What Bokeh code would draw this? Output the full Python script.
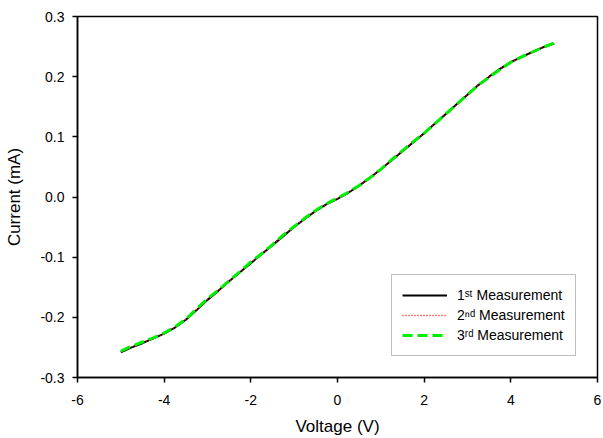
from bokeh.plotting import figure
from bokeh.models import FixedTicker, PrintfTickFormatter, Range1d
from bokeh.embed import file_html
from bokeh.resources import INLINE

# Data
voltage = [-5.0, -4.75, -4.5, -4.25, -4.0, -3.75, -3.5, -3.25, -3.0, -2.75,
           -2.5, -2.25, -2.0, -1.75, -1.5, -1.25, -1.0, -0.75, -0.5, -0.25,
           0.0, 0.25, 0.5, 0.75, 1.0, 1.25, 1.5, 1.75, 2.0, 2.25,
           2.5, 2.75, 3.0, 3.25, 3.5, 3.75, 4.0, 4.25, 4.5, 4.75, 5.0]
current_1 = [-0.258, -0.250, -0.243, -0.235, -0.227, -0.217, -0.204, -0.188, -0.171, -0.156,
             -0.140, -0.125, -0.110, -0.095, -0.080, -0.065, -0.050, -0.036, -0.023, -0.012,
             -0.003, 0.007, 0.019, 0.032, 0.046, 0.061, 0.076, 0.091, 0.106, 0.122,
             0.138, 0.154, 0.170, 0.186, 0.200, 0.213, 0.224, 0.233, 0.241, 0.249, 0.255]
current_2 = [-0.257, -0.249, -0.242, -0.235, -0.227, -0.217, -0.204, -0.187, -0.170, -0.156,
             -0.140, -0.125, -0.109, -0.095, -0.080, -0.064, -0.050, -0.036, -0.023, -0.012,
             -0.003, 0.007, 0.019, 0.032, 0.046, 0.062, 0.076, 0.091, 0.106, 0.122,
             0.138, 0.154, 0.170, 0.186, 0.200, 0.213, 0.224, 0.233, 0.241, 0.249, 0.255]
current_3 = [-0.256, -0.248, -0.241, -0.234, -0.226, -0.216, -0.203, -0.186, -0.169, -0.155,
             -0.139, -0.124, -0.108, -0.094, -0.079, -0.063, -0.049, -0.035, -0.022, -0.011,
             -0.002, 0.008, 0.019, 0.032, 0.046, 0.062, 0.077, 0.092, 0.106, 0.122,
             0.138, 0.154, 0.170, 0.186, 0.199, 0.212, 0.224, 0.233, 0.241, 0.249, 0.256]
labels = ["1\u02e2\u1d57 Measurement", "2\u207f\u1d48 Measurement", "3\u02b3\u1d48 Measurement"]
x_ticks = [-6, -4, -2, 0, 2, 4, 6]
y_ticks = [-0.3, -0.2, -0.1, 0.0, 0.1, 0.2, 0.3]

FONT = "Liberation Sans"

p = figure(width=603, height=438, output_backend="svg", toolbar_location=None,
           x_range=Range1d(-6, 6), y_range=Range1d(-0.3, 0.3),
           min_border_left=77, min_border_right=6, min_border_top=16, min_border_bottom=59)
p.background_fill_color = "white"
p.border_fill_color = "white"
p.grid.visible = False
p.outline_line_color = "black"
p.outline_line_width = 1.5

p.line(voltage, current_1, line_color="black", line_width=2, legend_label=labels[0])
p.line(voltage, current_2, line_color="red", line_width=1.5, line_dash="1 2", legend_label=labels[1])
p.line(voltage, current_3, line_color="#00ee00", line_width=3, line_dash="10 5", legend_label=labels[2])

for ax in (p.xaxis[0], p.yaxis[0]):
    ax.axis_line_color = "black"
    ax.axis_line_width = 1.5
    ax.major_tick_line_color = "black"
    ax.major_tick_line_width = 1.5
    ax.major_tick_out = 5
    ax.major_tick_in = 0
    ax.minor_tick_line_color = None
    ax.major_label_text_font = FONT
    ax.major_label_text_font_size = "14px"
    ax.major_label_text_color = "black"
    ax.axis_label_text_font = FONT
    ax.axis_label_text_font_size = "17px"
    ax.axis_label_text_font_style = "normal"
    ax.axis_label_text_color = "black"

p.xaxis.ticker = FixedTicker(ticks=x_ticks)
p.yaxis.ticker = FixedTicker(ticks=y_ticks)
p.xaxis.formatter = PrintfTickFormatter(format="%d")
p.yaxis.formatter = PrintfTickFormatter(format="%.1f")
p.xaxis.axis_label = "Voltage (V)"
p.yaxis.axis_label = "Current (mA)"
p.xaxis.major_label_standoff = 12
p.yaxis.major_label_standoff = 8
p.xaxis.axis_label_standoff = 9
p.yaxis.axis_label_standoff = 13

lg = p.legend[0]
lg.location = (314, 21)
lg.border_line_color = "#808080"
lg.border_line_width = 1
lg.background_fill_color = "white"
lg.background_fill_alpha = 1
lg.padding = 10
lg.margin = 0
lg.spacing = 0
lg.label_height = 20
lg.glyph_height = 20
lg.glyph_width = 45
lg.label_standoff = 10
lg.label_text_font = FONT
lg.label_text_font_size = "14px"
lg.label_text_color = "black"

open("out.html", "w").write(file_html(p, INLINE))
